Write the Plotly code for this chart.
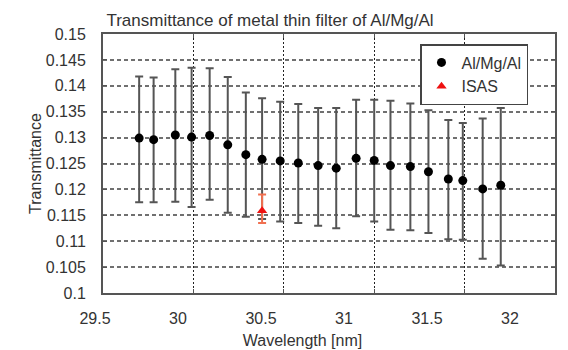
import plotly.graph_objects as go

# ---- data ----
wavelength = [29.70, 29.78, 29.90, 29.99, 30.09, 30.19, 30.29, 30.38, 30.48, 30.58,
              30.69, 30.79, 30.90, 31.00, 31.09, 31.20, 31.30, 31.41, 31.49, 31.60, 31.70]
transmittance = [0.1299, 0.1296, 0.1305, 0.1301, 0.1304, 0.1286, 0.1267, 0.1258, 0.1255, 0.1251,
                 0.1246, 0.1241, 0.1260, 0.1256, 0.1246, 0.1244, 0.1234, 0.1220, 0.1217, 0.1201, 0.1208]
upper = [0.1418, 0.1416, 0.1432, 0.1435, 0.1434, 0.1417, 0.1387, 0.1376, 0.1369, 0.1365,
         0.1357, 0.1357, 0.1373, 0.1373, 0.1371, 0.1366, 0.1353, 0.1334, 0.1328, 0.1337, 0.1357]
lower = [0.1175, 0.1175, 0.1176, 0.1166, 0.1180, 0.1155, 0.1147, 0.1143, 0.1138, 0.1135,
         0.1130, 0.1125, 0.1148, 0.1138, 0.1122, 0.1121, 0.1116, 0.1104, 0.1103, 0.1066, 0.1053]

isas_wavelength = [30.38]
isas_transmittance = [0.1159]
isas_upper = [0.1190]
isas_lower = [0.1135]

x_ticks = [29.5, 30, 30.5, 31, 31.5, 32]
x_tick_text = ["29.5", "30", "30.5", "31", "31.5", "32"]
y_ticks = [0.1, 0.105, 0.11, 0.115, 0.12, 0.125, 0.13, 0.135, 0.14, 0.145, 0.15]
y_tick_text = ["0.1", "0.105", "0.11", "0.115", "0.12", "0.125", "0.13", "0.135", "0.14", "0.145", "0.15"]

title_text = "Transmittance of metal thin filter of Al/Mg/Al"
x_title = "Wavelength [nm]"
y_title = "Transmittance"

# ---- figure ----
FONT = "Liberation Sans, Arial, sans-serif"
TXT = "#333333"

err_plus = [u - v for u, v in zip(upper, transmittance)]
err_minus = [v - l for v, l in zip(transmittance, lower)]
isas_plus = [u - v for u, v in zip(isas_upper, isas_transmittance)]
isas_minus = [v - l for v, l in zip(isas_transmittance, isas_lower)]

fig = go.Figure()
fig.add_trace(go.Scatter(
    x=wavelength, y=transmittance, mode="markers", name="Al/Mg/Al",
    marker=dict(symbol="circle", size=9, color="black"),
    error_y=dict(type="data", symmetric=False, array=err_plus, arrayminus=err_minus,
                 color="#555555", thickness=2, width=4),
))
fig.add_trace(go.Scatter(
    x=isas_wavelength, y=isas_transmittance, mode="markers", name="ISAS",
    marker=dict(symbol="triangle-up", size=9, color="#ee1111"),
    error_y=dict(type="data", symmetric=False, array=isas_plus, arrayminus=isas_minus,
                 color="#f07050", thickness=2, width=4),
))
# empty trace that only registers the label axis (x2 / y2)
fig.add_trace(go.Scatter(x=[None], y=[None], xaxis="x2", yaxis="y2",
                         showlegend=False, hoverinfo="skip"))

W, H = 568, 350
L, R, T, B = 80, 13, 34, 57
plot_left = 103
label_left, label_right = 95, 510
pw = W - L - R

fig.update_layout(
    width=W, height=H,
    margin=dict(l=L, r=R, t=T, b=B, autoexpand=False),
    paper_bgcolor="white", plot_bgcolor="rgba(0,0,0,0)",
    font=dict(family=FONT, size=16, color=TXT),
    title=dict(text=title_text, x=270 / W, xref="container", xanchor="center",
               y=1 - 20 / H, yref="container", yanchor="middle",
               font=dict(family=FONT, size=17, color=TXT)),
    showlegend=True,
    legend=dict(x=(528 - L) / pw, xanchor="right", y=1 - (44 - T) / (H - T - B), yanchor="top",
                bgcolor="white", bordercolor="#444444", borderwidth=1.5,
                font=dict(family=FONT, size=16, color=TXT),
                itemwidth=30, tracegroupgap=2),
    xaxis=dict(
        domain=[(plot_left - L) / pw, 1.0], range=[29.5, 32], automargin=False,
        tickvals=x_ticks, showticklabels=False,
        showgrid=True, gridcolor="#222222", griddash="2px,2px", gridwidth=1.2,
        zeroline=False, showline=True, linecolor="#555555", linewidth=2, mirror="ticks",
        ticks="inside", ticklen=4, tickcolor="#555555",
    ),
    yaxis=dict(
        range=[0.1, 0.15], tickvals=y_ticks, ticktext=y_tick_text, automargin=False,
        showgrid=True, gridcolor="#707070", griddash="4px,3px", gridwidth=1.5,
        zeroline=False, showline=True, linecolor="#555555", linewidth=2, mirror="ticks",
        ticks="inside", ticklen=4, tickcolor="#555555",
        ticklabelstandoff=12,
        tickfont=dict(family=FONT, size=16, color=TXT),
        title=dict(text=y_title, standoff=0, font=dict(family=FONT, size=16, color=TXT)),
    ),
    xaxis2=dict(
        domain=[(label_left - L) / pw, (label_right - L) / pw], range=[29.5, 32],
        anchor="y2", tickvals=x_ticks, ticktext=x_tick_text, automargin=False,
        showgrid=False, zeroline=False, showline=False, ticks="",
        ticklabelstandoff=14,
        tickfont=dict(family=FONT, size=16, color=TXT),
        title=dict(text=x_title, standoff=8, font=dict(family=FONT, size=16, color=TXT)),
    ),
    yaxis2=dict(
        domain=[0, 1], range=[0.1, 0.15], anchor="x2", visible=False, automargin=False,
        showgrid=False, zeroline=False,
    ),
)

fig.write_html("out.html")
